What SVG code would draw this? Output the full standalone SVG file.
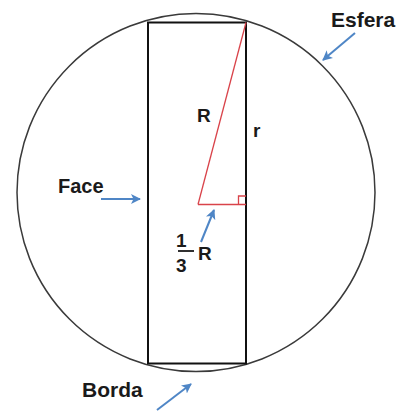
<svg xmlns="http://www.w3.org/2000/svg" width="408" height="411" viewBox="0 0 408 411">
<style>
.lbl{font-family:"Liberation Sans",Arial,sans-serif;font-weight:bold;fill:#1a1a1a}
.arr{stroke:#4f86c6;stroke-width:2;fill:none;marker-end:url(#ah)}
.red{stroke:#d9434a;stroke-width:1.3;fill:none}
</style>
<defs>
<marker id="ah" viewBox="0 0 10 10" refX="9" refY="5" markerWidth="5" markerHeight="5" orient="auto" markerUnits="strokeWidth">
<path d="M0,0 L10,5 L0,10 L2.5,5 Z" fill="#4f86c6"/>
</marker>
</defs>
<rect width="408" height="411" fill="#fff"/>
<g id="esfera">
<circle cx="196" cy="192.5" r="179" fill="none" stroke="#3a3a3a" stroke-width="1.5"/>
<text class="lbl" x="331" y="27" font-size="21">Esfera</text>
</g>
<g id="face">
<rect x="148" y="22.5" width="98" height="341" fill="none" stroke="#111" stroke-width="2"/>
<text class="lbl" x="58" y="193" font-size="20">Face</text>
</g>
<g id="triangulo">
<line class="red" x1="246" y1="22.5" x2="198" y2="204.5"/>
<line class="red" x1="198" y1="204.5" x2="246" y2="204.5"/>
<polyline class="red" points="238.5,204.5 238.5,196 246,196"/>
<text class="lbl" x="197" y="122" font-size="19">R</text>
<text class="lbl" x="253" y="137" font-size="19">r</text>
</g>
<g id="terco">
<text class="lbl" x="176" y="247" font-size="19">1</text>
<line x1="178" y1="251" x2="194" y2="251" stroke="#1a1a1a" stroke-width="1.8"/>
<text class="lbl" x="176" y="272" font-size="19">3</text>
<text class="lbl" x="198" y="260" font-size="19">R</text>
</g>
<g id="borda">
<text class="lbl" x="82" y="397" font-size="21">Borda</text>
</g>
<g id="connectors">
<line class="arr" x1="101" y1="199" x2="140" y2="199"/>
<line class="arr" x1="355" y1="33" x2="323" y2="60"/>
<line class="arr" x1="201" y1="242" x2="214" y2="210"/>
<line class="arr" x1="157" y1="410" x2="191" y2="384"/>
</g>
</svg>
